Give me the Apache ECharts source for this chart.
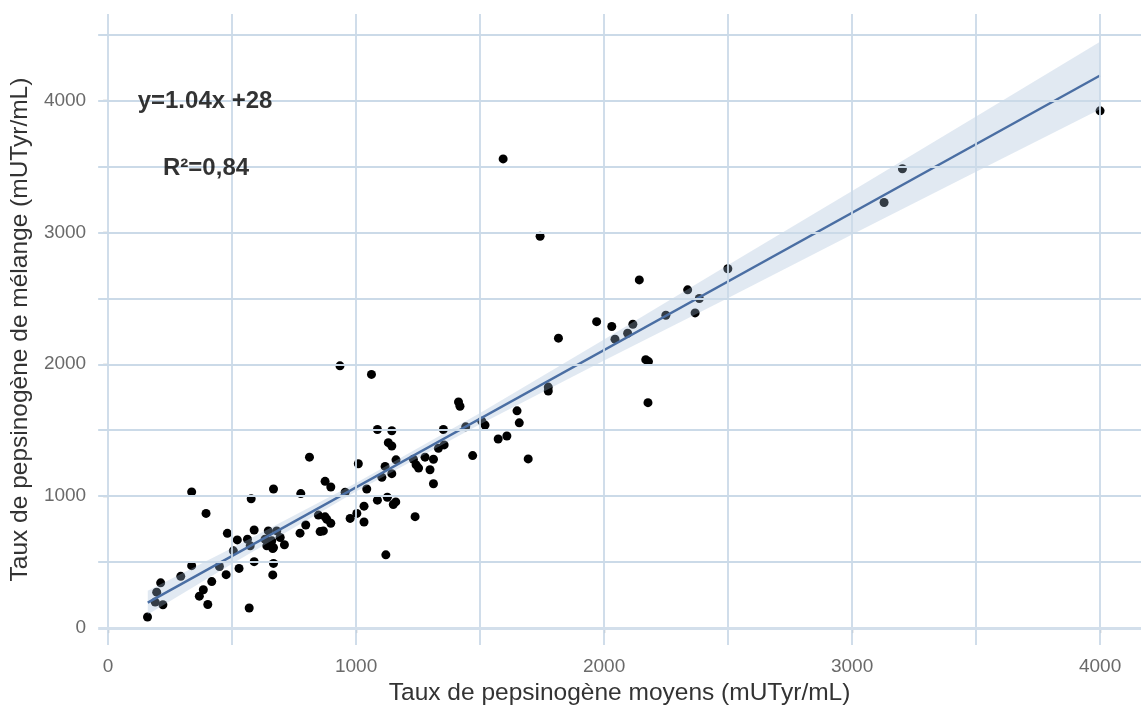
<!DOCTYPE html>
<html>
<head>
<meta charset="utf-8">
<script src="https://cdn.jsdelivr.net/npm/echarts@6/dist/echarts.min.js"></script>
<style>
html,body{margin:0;padding:0;background:#fff;}
#chart{width:1141px;height:711px;}
</style>
</head>
<body>
<div id="chart"></div>
<script>
// ---- data ----
const pointsX = [337,395,577,667,777,481,521,562,589,573,505,646,680,633,660,694,640,667,711,664,774,797,337,293,449,528,589,667,664,476,418,384,368,402,569,212,196,221,190,159,812,875,898,956,1009,1043,1086,1144,1130,1144,1161,1117,1104,1144,1231,1242,1252,1278,1312,1298,1312,1352,1332,1355,1442,1470,1086,1126,1150,1160,1032,1003,976,1032,1238,1120,848,875,882,855,868,898,1413,1419,1649,1658,1775,1775,1694,1573,1608,1507,1520,935,1062,1816,1970,2031,2116,2095,2044,2249,2337,2384,2367,2499,2142,2168,2179,2177,3203,3129,4000,1593,1742];
const pointsY = [1033,870,980,1055,1020,719,669,674,744,624,586,737,737,674,662,687,624,611,632,604,720,782,474,393,468,453,504,491,404,406,353,291,243,180,153,344,273,178,198,85,1296,1113,1070,1030,1246,1055,1506,1496,1406,1381,1276,1226,1143,1171,1280,1238,1213,1296,1280,1201,1095,1506,1363,1389,1526,1308,970,992,937,957,925,870,832,805,845,556,857,844,825,732,737,795,1714,1682,1647,1556,1827,1797,1283,1434,1456,1569,1539,1988,1923,2198,2323,2286,2303,2235,2190,2371,2564,2498,2389,2724,2639,2035,2020,1709,3481,3226,3920,3556,2970];

const fitX = [160, 4000];
const fitY = [194, 4188];

const bandX    = [160, 500, 1000, 1500, 2000, 2500, 3000, 3500, 4000];
const bandLow  = [104, 488, 1036, 1546, 2028, 2503, 2983, 3458, 3933];
const bandHigh = [284, 608, 1100, 1630, 2188, 2753, 3313, 3878, 4443];

const tickValuesX = [0, 1000, 2000, 3000, 4000];
const tickValuesY = [0, 1000, 2000, 3000, 4000];
const gridLinesX = [0, 500, 1000, 1500, 2000, 2500, 3000, 3500, 4000];
const gridLinesY = [0, 500, 1000, 1500, 2000, 2500, 3000, 3500, 4000, 4500];

const annotations = [
  {text: 'y=1.04x +28', x: 391, y: 3992},
  {text: 'R²=0,84', x: 395, y: 3481}
];

const xTitle = 'Taux de pepsinogène moyens (mUTyr/mL)';
const yTitle = 'Taux de pepsinogène de mélange (mUTyr/mL)';

// ---- chart ----
const chart = echarts.init(document.getElementById('chart'), null, {renderer: 'canvas'});
const FONT = 'Liberation Sans, Arial, sans-serif';
const gridColor = '#cbdae8';

const scatterData = pointsX.map((x, i) => [x, pointsY[i]]);

const markLineData = [];
gridLinesX.forEach(v => markLineData.push({xAxis: v, lineStyle: {color: gridColor, width: 1.8, type: 'solid'}}));
gridLinesY.forEach(v => markLineData.push({yAxis: v, lineStyle: {color: v === 0 ? '#d3dfeb' : gridColor, width: v === 0 ? 3 : 1.8, type: 'solid'}}));

const option = {
  animation: false,
  backgroundColor: '#fff',
  grid: {left: 98, right: 0, top: 14, bottom: 61, containLabel: false},
  xAxis: {
    type: 'value', min: -40, max: 4165,
    axisLine: {show: false},
    splitLine: {show: false},
    axisTick: {show: true, customValues: tickValuesX, length: 5, lineStyle: {color: '#909090', width: 1.3}},
    axisLabel: {customValues: tickValuesX, formatter: v => String(v), color: '#6a6a6a', fontSize: 19, fontFamily: FONT, margin: 12},
    name: xTitle, nameLocation: 'middle', nameGap: 33,
    nameTextStyle: {color: '#333', fontSize: 24.5, fontFamily: FONT}
  },
  yAxis: {
    type: 'value', min: -128, max: 4654,
    axisLine: {show: false},
    splitLine: {show: false},
    axisTick: {show: true, customValues: tickValuesY, length: 5, lineStyle: {color: '#909090', width: 1.3}},
    axisLabel: {customValues: tickValuesY, formatter: v => String(v), color: '#6a6a6a', fontSize: 19, fontFamily: FONT, margin: 12},
    name: yTitle, nameLocation: 'middle', nameGap: 58, nameRotate: 90,
    nameTextStyle: {color: '#333', fontSize: 24.5, fontFamily: FONT}
  },
  series: [
    {
      type: 'scatter', name: 'grid', data: [], z: 1, silent: true,
      markLine: {silent: true, symbol: 'none', label: {show: false}, data: markLineData, animation: false}
    },
    {
      type: 'scatter', name: 'points', data: scatterData, z: 2,
      symbol: 'circle', symbolSize: 9,
      itemStyle: {color: '#000', opacity: 1}
    },
    {
      type: 'custom', name: 'band', z: 3, silent: true,
      data: [[bandX[0], bandLow[0]]],
      renderItem: function (params, api) {
        const pts = [];
        for (let i = 0; i < bandX.length; i++) pts.push(api.coord([bandX[i], bandHigh[i]]));
        for (let i = bandX.length - 1; i >= 0; i--) pts.push(api.coord([bandX[i], bandLow[i]]));
        return {type: 'polygon', shape: {points: pts}, style: {fill: 'rgba(161,188,215,0.32)'}};
      }
    },
    {
      type: 'line', name: 'fit', z: 4, silent: true,
      data: fitX.map((x, i) => [x, fitY[i]]),
      symbol: 'none',
      lineStyle: {color: '#4a6ea3', width: 2.4}
    },
    {
      type: 'scatter', name: 'annot', z: 5, silent: true,
      data: annotations.map(a => [a.x, a.y, a.text]),
      symbolSize: 0,
      label: {
        show: true, position: 'inside',
        formatter: p => p.value[2],
        color: '#000', textBorderWidth: 0, fontSize: 24, fontWeight: 'bold', fontFamily: FONT
      }
    }
  ]
};
chart.setOption(option);
</script>
</body>
</html>
